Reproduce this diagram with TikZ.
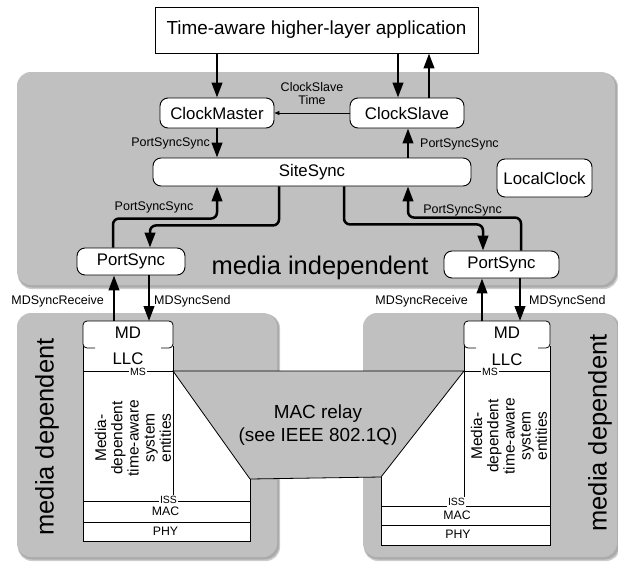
\documentclass[tikz,border=0pt]{standalone}
\usepackage{fontspec}
\setmainfont{Liberation Sans}
\usetikzlibrary{arrows.meta}
\definecolor{panelgray}{RGB}{192,192,192}
\definecolor{shadowgray}{RGB}{110,110,110}

\begin{document}
\begin{tikzpicture}[x=1pt, y=-1pt,
  box/.style={draw, line width=0.9pt, fill=white, rounded corners=8pt, inner sep=0pt,
    font=\fontsize{16.8}{18}\selectfont},
  small/.style={inner sep=0pt, font=\fontsize{12.5}{13}\selectfont},
  tiny/.style={fill=white, inner sep=1pt, font=\fontsize{10.5}{10.5}\selectfont},
  layer/.style={inner sep=0pt, font=\fontsize{12.3}{12.3}\selectfont},
  huge/.style={inner sep=0pt, font=\fontsize{25.5}{28}\selectfont},
  entity/.style={inner sep=0pt, rotate=90, align=center, font=\fontsize{15.5}{16.2}\selectfont},
  big/.style={line width=2.5pt, -{Triangle[length=15pt,width=10.5pt]}},
  bigpath/.style={big, rounded corners=6pt},
  fine/.style={line width=0.6pt, -{Triangle[length=5pt,width=4pt]}},
  edge/.style={line width=0.8pt},
]
\useasboundingbox (0,0) rectangle (618,563);

% ---- grey panels with a soft drop shadow
\foreach \a/\b/\c/\d in {17/72/615/285, 17/313/277/557, 363/313/617/557}{
  \fill[shadowgray, opacity=0.35, rounded corners=14pt] (\a+1,\b+1) rectangle (\c+3,\d+4);
  \fill[shadowgray, opacity=0.35, rounded corners=14pt] (\a+1,\b+1) rectangle (\c+2,\d+2.5);
  \fill[panelgray, rounded corners=14pt] (\a,\b) rectangle (\c,\d);
}

% ---- top application box
\node[draw, line width=0.9pt, fill=white, minimum width=323pt, minimum height=46pt, inner sep=0pt,
      font=\fontsize{18.9}{20}\selectfont] (app) at (316.5,30) {Time-aware higher-layer application};

% ---- media independent entities
\node[box, minimum width=114pt, minimum height=30pt] (cm) at (217,113) {ClockMaster};
\node[box, minimum width=114pt, minimum height=30pt] (cs) at (407,113) {ClockSlave};
\node[box, minimum width=318pt, minimum height=28pt] (ss) at (312,172) {SiteSync};
\node[box, minimum width=95pt, minimum height=38pt] (lc) at (544.5,178) {LocalClock};
\node[box, minimum width=108pt, minimum height=27pt] (psl) at (131,261.5) {PortSync};
\node[box, minimum width=115pt, minimum height=27pt] (psr) at (501.5,264.5) {PortSync};
\node[huge, anchor=base] (mi) at (320,274) {media independent};

% ---- media dependent stacks: white columns
\fill[white] (83,330) -- (83,541) -- (250,541) -- (250,479) -- (173,371) -- (173,330) -- cycle;
\fill[white] (550,330) -- (550,545) -- (381,545) -- (381,477) -- (464,371) -- (464,330) -- cycle;

% MAC relay
\draw[edge, fill=panelgray] (173,371) -- (464,371) -- (381,477) -- (250,479) -- cycle;
\node[inner sep=0pt, font=\fontsize{18.9}{23}\selectfont, align=center] (relay) at (318,425)
  {MAC relay\\(see IEEE 802.1Q)};

% left stack
\draw[edge, fill=white, rounded corners=4pt] (95,348) -- (83,348) -- (83,321) -- (173,321) -- (173,348) -- (161,348);
\draw[edge] (83,346) -- (83,541) -- (250,541) -- (250,479);
\draw[edge] (173,346) -- (173,501);
\draw[edge] (83,371) -- (173,371);
\draw[edge] (83,501) -- (250,501);
\draw[edge] (83,522) -- (250,522);
\coordinate (mdl) at (128,321);
\node[inner sep=0pt, font=\fontsize{16.8}{18}\selectfont] (mdlt) at (128,333) {MD};
\node[inner sep=0pt, font=\fontsize{16.8}{18}\selectfont] (llcl) at (128,359) {LLC};
\node[tiny] (msl) at (138,372) {MS};
\node[tiny] (issl) at (168.5,500) {ISS};
\node[layer] (macl) at (165.5,511.5) {MAC};
\node[layer] (phyl) at (165.5,531.5) {PHY};
\node[entity] (entl) at (133,438) {Media-\\dependent\\time-aware\\system\\entities};
\node[huge, rotate=90] (depl) at (47,437) {media dependent};

% right stack
\draw[edge, fill=white, rounded corners=4pt] (476,348) -- (464,348) -- (464,321) -- (550,321) -- (550,348) -- (538,348);
\draw[edge] (550,346) -- (550,545) -- (381,545) -- (381,477);
\draw[edge] (464,346) -- (464,506);
\draw[edge] (464,371) -- (550,371);
\draw[edge] (381,506) -- (550,506);
\draw[edge] (381,525) -- (550,525);
\coordinate (mdr) at (507,321);
\node[inner sep=0pt, font=\fontsize{16.8}{18}\selectfont] (mdrt) at (507,333) {MD};
\node[inner sep=0pt, font=\fontsize{16.8}{18}\selectfont] (llcr) at (507,360) {LLC};
\node[tiny] (msr) at (490,372) {MS};
\node[tiny] (issr) at (456.5,502) {ISS};
\node[layer] (macr) at (457,515) {MAC};
\node[layer] (phyr) at (458,534.5) {PHY};
\node[entity] (entr) at (509,436) {Media-\\dependent\\time-aware\\system\\entities};
\node[huge, rotate=90] (depr) at (600,433) {media dependent};

% ---- connectors
\draw[big] (cm.north |- app.south) -- (cm.north);
\draw[big] ([xshift=-9pt]cs.north |- app.south) -- ([xshift=-9pt]cs.north);
\draw[big] ([xshift=22pt]cs.north) -- ([xshift=22pt]cs.north |- app.south);
\draw[fine] (cs.west) -- (cm.east);
\node[small, align=center] (cst) at (312,93.5) {ClockSlave\\Time};

\draw[big] (cm.south) -- (cm.south |- ss.north);
\node[small, anchor=east] (pss1) at (210,143) {PortSyncSync};
\draw[big] ([xshift=1pt]cs.south |- ss.north) -- ([xshift=1pt]cs.south);
\node[small, anchor=west] (pss2) at (420,144) {PortSyncSync};

\draw[bigpath] ([xshift=-18pt]psl.north) -- ++(0,-29) -| ([xshift=-95pt]ss.south);
\draw[bigpath] ([xshift=-33pt]ss.south) -- ++(0,39) -| ([xshift=19pt]psl.north);
\node[small] (pss3) at (154,207) {PortSyncSync};
\draw[bigpath] ([xshift=32pt]ss.south) -- ++(0,38) -| ([xshift=-18.5pt]psr.north);
\draw[bigpath] ([xshift=19.5pt]psr.north) -- ++(0,-33) -| ([xshift=96pt]ss.south);
\node[small] (pss4) at (462.5,210) {PortSyncSync};

\draw[big] ([xshift=-14pt]mdl) -- ([xshift=-17pt]psl.south);
\draw[big] ([xshift=18pt]psl.south) -- ([xshift=21pt]mdl);
\node[small, anchor=east] (rcvl) at (104,301) {MDSyncReceive};
\node[small, anchor=west] (sndl) at (154,301) {MDSyncSend};
\draw[big] ([xshift=-25pt]mdr) -- ([xshift=-19.5pt]psr.south);
\draw[big] ([xshift=18.5pt]psr.south) -- ([xshift=13pt]mdr);
\node[small, anchor=east] (rcvr) at (468,301) {MDSyncReceive};
\node[small, anchor=west] (sndr) at (529,301) {MDSyncSend};
\end{tikzpicture}
\end{document}
